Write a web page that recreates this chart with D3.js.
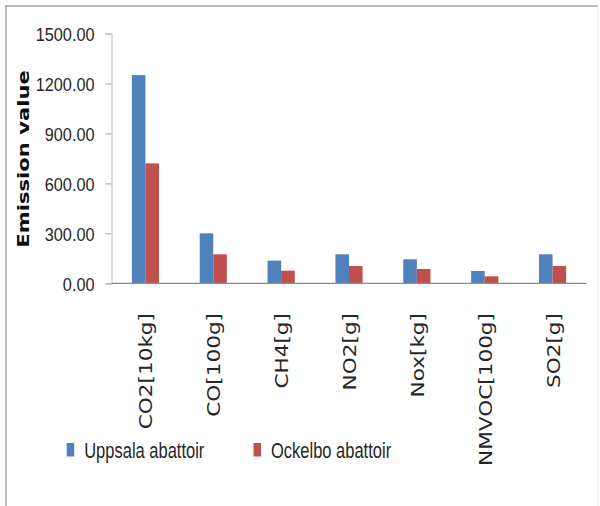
<!DOCTYPE html>
<html>
<head>
<meta charset="utf-8">
<script src="https://cdn.jsdelivr.net/npm/d3@7"></script>
<style>
  html, body { margin: 0; padding: 0; background: #fff; }
  svg { display: block; }
</style>
</head>
<body>
<svg id="chart" width="600" height="506"></svg>
<script>
// Emission values per pollutant for the two abattoirs
const categories = ["CO2[10kg]", "CO[100g]", "CH4[g]", "NO2[g]", "Nox[kg]", "NMVOC[100g]", "SO2[g]"];
const uppsala = [1250, 300, 136, 174, 144, 74, 174];
const ockelbo = [720, 174, 76, 104, 86, 42, 104];
const seriesNames = ["Uppsala abattoir", "Ockelbo abattoir"];
const seriesColors = ["#4F81BD", "#C0504D"];
const yTicks = [0, 300, 600, 900, 1200, 1500];

const svg = d3.select("#chart");

// outer frame (top, left, faint right edge)
svg.append("line").attr("x1", 5).attr("x2", 598).attr("y1", 6).attr("y2", 6)
  .attr("stroke", "#a6a6a6").attr("stroke-width", 1.5);
svg.append("line").attr("x1", 6).attr("x2", 6).attr("y1", 5).attr("y2", 506)
  .attr("stroke", "#a6a6a6").attr("stroke-width", 1.5);
svg.append("line").attr("x1", 598).attr("x2", 598).attr("y1", 6).attr("y2", 506)
  .attr("stroke", "#e6e6e6").attr("stroke-width", 1);

const plotLeft = 111.5, plotRight = 586.5, plotTop = 33.5, plotBottom = 283.3;

const x = d3.scaleBand().domain(categories).range([plotLeft, plotRight])
  .paddingInner(0.6).paddingOuter(0.3);
const xs = d3.scaleBand().domain(seriesNames).range([0, x.bandwidth()]);
const y = d3.scaleLinear().domain([0, 1500]).range([plotBottom, plotTop]);

// y axis
const yAxis = svg.append("g").attr("transform", `translate(${plotLeft},0)`)
  .call(d3.axisLeft(y).tickValues(yTicks).tickSize(6).tickFormat(d3.format(".2f")));
yAxis.select(".domain").attr("stroke", "#c8c8c8").attr("stroke-width", 1.2);
yAxis.selectAll(".tick line").attr("stroke", "#b0b0b0").attr("stroke-width", 1.2);
yAxis.selectAll(".tick text")
  .attr("x", 0).attr("dy", null).attr("y", 0)
  .attr("font-family", "'Liberation Sans', Arial, sans-serif")
  .attr("font-size", 18.7).attr("fill", "#262626")
  .attr("text-anchor", "end")
  .attr("transform", "translate(-17,7) scale(0.87,1)");

// bars
const data = categories.map((c, i) => ({ c, vals: [uppsala[i], ockelbo[i]] }));
const groups = svg.append("g").selectAll("g").data(data).join("g")
  .attr("transform", d => `translate(${x(d.c)},0)`);
groups.selectAll("rect").data(d => d.vals.map((v, k) => ({ v, k })))
  .join("rect")
  .attr("x", d => xs(seriesNames[d.k]))
  .attr("width", xs.bandwidth())
  .attr("y", d => y(d.v))
  .attr("height", d => y(0) - y(d.v))
  .attr("fill", d => seriesColors[d.k]);

// x axis baseline
svg.append("line").attr("x1", plotLeft).attr("x2", plotRight)
  .attr("y1", y(0)).attr("y2", y(0))
  .attr("stroke", "#8c8c8c").attr("stroke-width", 1.3);

// rotated category labels
svg.append("g").selectAll("text").data(categories).join("text")
  .attr("transform", d => `translate(${x(d) + x.bandwidth() / 2 + 7},313) rotate(-90) scale(1.27,1)`)
  .attr("text-anchor", "end")
  .attr("font-family", "'DejaVu Sans', Verdana, sans-serif")
  .attr("font-size", 17).attr("fill", "#262626")
  .text(d => d);

// y axis title
svg.append("text")
  .attr("transform", "translate(28.5,159) rotate(-90) scale(1.28,1)")
  .attr("text-anchor", "middle")
  .attr("font-family", "'DejaVu Sans', Verdana, sans-serif")
  .attr("font-weight", "bold").attr("font-size", 16.5).attr("fill", "#0d0d0d")
  .text("Emission value");

// legend
const legendX = [66.7, 253.5];
const legend = svg.append("g").selectAll("g").data(seriesNames).join("g")
  .attr("transform", (d, i) => `translate(${legendX[i]},0)`);
legend.append("rect").attr("x", 0).attr("y", 443).attr("width", 7.5).attr("height", 13.5)
  .attr("fill", (d, i) => seriesColors[i]);
legend.append("text")
  .attr("transform", "translate(17.5,458) scale(0.74,1)")
  .attr("font-family", "'Liberation Sans', Arial, sans-serif")
  .attr("font-size", 22.3).attr("fill", "#262626")
  .text(d => d);
</script>
</body>
</html>
